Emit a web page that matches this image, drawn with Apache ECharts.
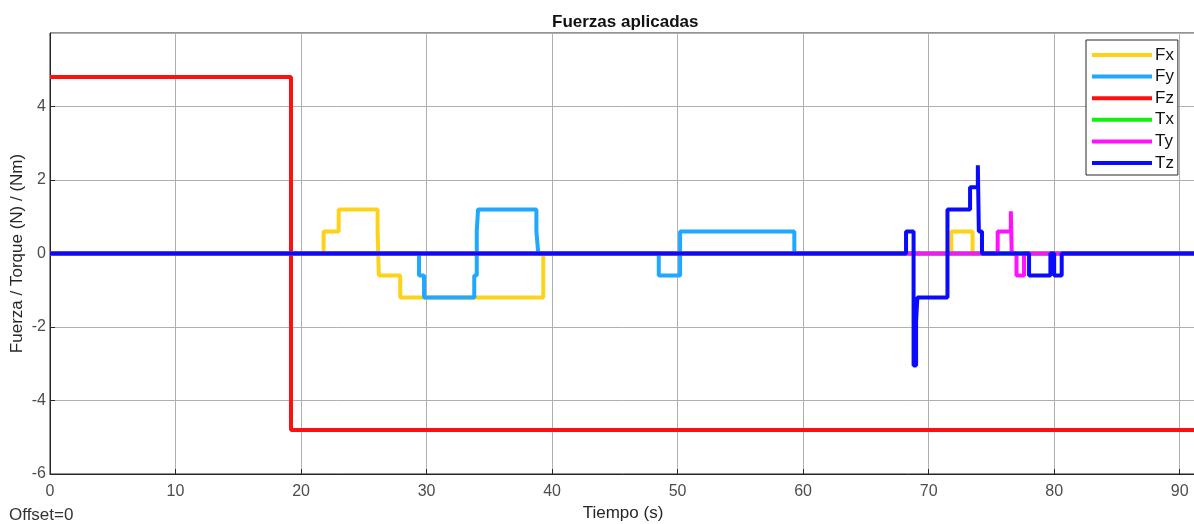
<!DOCTYPE html>
<html>
<head>
<meta charset="utf-8">
<script src="https://cdn.jsdelivr.net/npm/echarts@6/dist/echarts.min.js"></script>
<style>
html,body{margin:0;padding:0;background:#fff;}
#chart{width:1194px;height:524px;}
</style>
</head>
<body>
<div id="chart"></div>
<script>
// Step data: [time, value] – value held until next time
const seriesNames = ['Fx', 'Fy', 'Fz', 'Tx', 'Ty', 'Tz'];
const seriesColors = ['#FFD21A', '#1EA8FF', '#FF1010', '#10F010', '#FF10FF', '#0A0AFF'];
const Fx = [[0,0],[21.8,0.6],[23.0,1.2],[26.1,0.6],[26.2,-0.6],[27.9,-1.2],[39.3,0],[71.8,0.6],[73.5,0],[92,0]];
const Fy = [[0,0],[29.4,-0.6],[29.8,-1.2],[33.8,-0.6],[34.0,0.6],[34.1,1.2],[38.75,0.6],[38.9,0],[48.5,-0.6],[50.2,0.6],[59.3,0],[92,0]];
const Fz = [[0,4.8],[19.2,-4.8],[92,-4.8]];
const Tx = [[0,0],[92,0]];
const Ty = [[0,0],[75.5,0.6],[76.55,1.15],[76.62,0],[77.0,-0.6],[77.6,0],[92,0]];
const Tz = [[0,0],[68.2,0.6],[68.8,-3.05],[69.0,-1.85],[69.1,-1.2],[71.5,1.2],[73.3,1.8],[73.92,2.4],[74.0,0.6],[74.25,0],[78.0,-0.6],[79.7,0],[80.0,-0.6],[80.6,0],[92,0]];
const seriesData = [Fx, Fy, Fz, Tx, Ty, Tz];
const xTicks = [0,10,20,30,40,50,60,70,80,90];
const yTicks = [-6,-4,-2,0,2,4];

const chart = echarts.init(document.getElementById('chart'), null, {renderer:'canvas'});
const font = 'Liberation Sans, Arial, Helvetica, sans-serif';
const option = {
  animation: false,
  backgroundColor: '#ffffff',
  title: {
    text: 'Fuerzas aplicadas',
    left: 547, top: 9,
    textStyle: {fontFamily: font, fontSize: 17, fontWeight: 'bold', color: '#111'}
  },
  grid: {left: 50, right: -2, top: 33, bottom: 50, show: true, borderColor: '#262626', borderWidth: 1, backgroundColor: '#fff', outerBoundsMode: 'none', containLabel: false},
  legend: {
    data: seriesNames,
    orient: 'vertical',
    left: 1086, top: 40,
    padding: [6, 4, 3, 6],
    backgroundColor: '#fff',
    borderColor: '#262626', borderWidth: 1,
    itemWidth: 60, itemHeight: 4, itemGap: 3.6,
    icon: 'rect',
    textStyle: {fontFamily: font, fontSize: 17, lineHeight: 18, color: '#111', padding: [0,0,0,-2]}
  },
  xAxis: {
    type: 'value', min: 0, max: 91.3, interval: 10,
    name: 'Tiempo (s)', nameLocation: 'middle', nameGap: 31,
    nameTextStyle: {fontFamily: font, fontSize: 17, color: '#262626'},
    axisLine: {show: true, onZero: false, lineStyle: {color: '#262626'}},
    axisTick: {show: true, inside: true, length: 5, lineStyle: {color: '#262626'}},
    axisLabel: {fontFamily: font, fontSize: 16, color: '#4d4d4d', margin: 10, showMaxLabel: false,
      formatter: v => xTicks.includes(v) ? String(v) : ''},
    splitLine: {show: true, lineStyle: {color: '#b0b0b0', width: 1}}
  },
  yAxis: {
    type: 'value', min: -6, max: 6, interval: 2,
    name: 'Fuerza / Torque (N) / (Nm)', nameLocation: 'middle', nameGap: 24, nameMoveOverlap: false,
    nameTextStyle: {fontFamily: font, fontSize: 17, color: '#262626'},
    axisLine: {show: true, onZero: false, lineStyle: {color: '#262626'}},
    axisTick: {show: true, inside: true, length: 5, lineStyle: {color: '#262626'}},
    axisLabel: {fontFamily: font, fontSize: 16, color: '#4d4d4d', margin: 4, showMaxLabel: false,
      formatter: v => yTicks.includes(v) ? String(v) : ''},
    splitLine: {show: true, lineStyle: {color: '#b0b0b0', width: 1}}
  },
  graphic: [{
    type: 'text', left: 9, top: 507,
    style: {text: 'Offset=0', fontFamily: font, fontSize: 17, fill: '#333'}
  }],
  series: seriesNames.map((n, i) => ({
    name: n, type: 'line', step: 'end',
    data: seriesData[i],
    showSymbol: false, symbol: 'none',
    color: seriesColors[i],
    lineStyle: {width: 4, color: seriesColors[i]},
    clip: true,
    z: 2 + i
  }))
};
chart.setOption(option);
</script>
</body>
</html>
